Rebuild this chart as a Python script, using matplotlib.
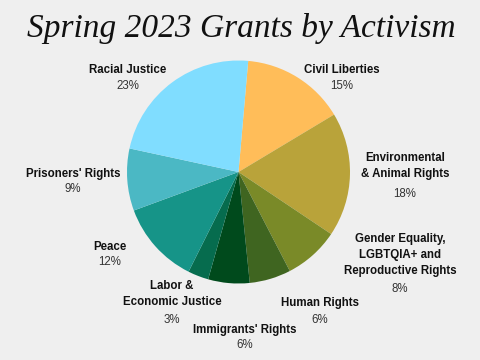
import matplotlib.pyplot as plt

categories = ["Civil Liberties", "Environmental\n& Animal Rights",
              "Gender Equality,\nLGBTQIA+ and\nReproductive Rights",
              "Human Rights", "Immigrants' Rights", "Labor &\nEconomic Justice",
              "Peace", "Prisoners' Rights", "Racial Justice"]
shares = [15, 18, 8, 6, 6, 3, 12, 9, 23]
colors = ["#FFBD59", "#B9A33A", "#7A8A28", "#3F6520", "#004A1C",
          "#066C4E", "#169488", "#4BB8C4", "#80DDFF"]

# label anchor (pixel coords from top-left): name centre x, name centre y, pct y
label_pos = [(342, 70, 86), (405, 166, 194), (400, 255, 289), (320, 303, 320),
             (245, 330, 345), (172, 294, 320), (110, 247, 262), (73, 174, 189),
             (128, 70, 86)]

W, H = 480, 360
fig = plt.figure(figsize=(4.8, 3.6), dpi=100)
fig.patch.set_facecolor("#EFEFEF")
ax = fig.add_axes([0, 0, 1, 1])
ax.set_facecolor("#EFEFEF")

ax.pie(shares, colors=colors, startangle=85, counterclock=False,
       center=(238.5, H - 172), radius=111.5,
       wedgeprops=dict(linewidth=0))
ax.set_xlim(0, W)
ax.set_ylim(0, H)
ax.set_aspect("equal")
ax.axis("off")

for name, pct, (x, y, py) in zip(categories, shares, label_pos):
    ax.text(x, H - y, name, ha="center", va="center", fontsize=8.3,
            fontweight="bold", family="Liberation Sans", color="#111111",
            linespacing=1.4)
    ax.text(x, H - py, f"{pct}%", ha="center", va="center", fontsize=8.3,
            family="Liberation Sans", color="#333333")

ax.text(241, H - 28, "Spring 2023 Grants by Activism", ha="center", va="center",
        fontsize=24, family="Liberation Serif", style="italic", color="#111111")

fig.savefig("out.png", dpi=100, facecolor=fig.get_facecolor())
